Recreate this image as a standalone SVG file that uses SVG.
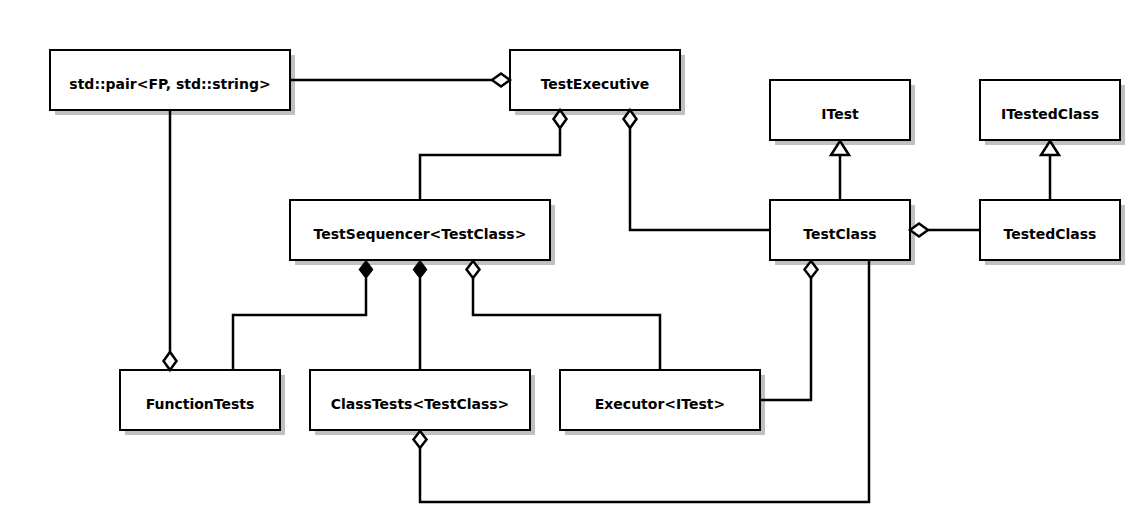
<svg xmlns="http://www.w3.org/2000/svg" width="1140" height="528" viewBox="0 0 1140 528">
<style>
.box{fill:#fff;stroke:#000;stroke-width:2}
.sh{fill:#c0c0c0}
.lbl{font-family:"DejaVu Sans",Verdana,sans-serif;font-weight:bold;font-size:14px;text-anchor:middle;fill:#000}
.ln{fill:none;stroke:#000;stroke-width:2.5}
.hd{fill:#fff;stroke:#000;stroke-width:2.5}
.fd{fill:#000;stroke:#000;stroke-width:1.5}
</style>
<rect width="1140" height="528" fill="#fff"/>
<g id="pair"><rect class="sh" x="55" y="55" width="240" height="60"/><rect class="box" x="50" y="50" width="240" height="60"/><text class="lbl" x="170" y="88.5">std::pair&lt;FP, std::string&gt;</text></g>
<g id="testexecutive"><rect class="sh" x="515" y="55" width="170" height="60"/><rect class="box" x="510" y="50" width="170" height="60"/><text class="lbl" x="595" y="88.5">TestExecutive</text></g>
<g id="itest"><rect class="sh" x="775" y="85" width="140" height="60"/><rect class="box" x="770" y="80" width="140" height="60"/><text class="lbl" x="840" y="118.5">ITest</text></g>
<g id="itestedclass"><rect class="sh" x="985" y="85" width="140" height="60"/><rect class="box" x="980" y="80" width="140" height="60"/><text class="lbl" x="1050" y="118.5">ITestedClass</text></g>
<g id="testsequencer"><rect class="sh" x="295" y="205" width="260" height="60"/><rect class="box" x="290" y="200" width="260" height="60"/><text class="lbl" x="420" y="238.5">TestSequencer&lt;TestClass&gt;</text></g>
<g id="testclass"><rect class="sh" x="775" y="205" width="140" height="60"/><rect class="box" x="770" y="200" width="140" height="60"/><text class="lbl" x="840" y="238.5">TestClass</text></g>
<g id="testedclass"><rect class="sh" x="985" y="205" width="140" height="60"/><rect class="box" x="980" y="200" width="140" height="60"/><text class="lbl" x="1050" y="238.5">TestedClass</text></g>
<g id="functiontests"><rect class="sh" x="125" y="375" width="160" height="60"/><rect class="box" x="120" y="370" width="160" height="60"/><text class="lbl" x="200" y="408.5">FunctionTests</text></g>
<g id="classtests"><rect class="sh" x="315" y="375" width="220" height="60"/><rect class="box" x="310" y="370" width="220" height="60"/><text class="lbl" x="420" y="408.5">ClassTests&lt;TestClass&gt;</text></g>
<g id="executor"><rect class="sh" x="565" y="375" width="200" height="60"/><rect class="box" x="560" y="370" width="200" height="60"/><text class="lbl" x="660" y="408.5">Executor&lt;ITest&gt;</text></g>
<g id="connectors">
<polyline class="ln" points="290,80 492,80"/>
<path class="hd" d="M510,80 L501,73.5 L492,80 L501,86.5 Z"/>
<polyline class="ln" points="560,128 560,155 420,155 420,200"/>
<path class="hd" d="M560,110 L566.5,119 L560,128 L553.5,119 Z"/>
<polyline class="ln" points="630,128 630,230 770,230"/>
<path class="hd" d="M630,110 L636.5,119 L630,128 L623.5,119 Z"/>
<polyline class="ln" points="840,200 840,155"/>
<path class="hd" d="M840,141 L849,155 L831,155 Z"/>
<polyline class="ln" points="1050,200 1050,155"/>
<path class="hd" d="M1050,141 L1059,155 L1041,155 Z"/>
<polyline class="ln" points="980,230 928,230"/>
<path class="hd" d="M910,230 L919,223.5 L928,230 L919,236.5 Z"/>
<polyline class="ln" points="170,110 170,352"/>
<path class="hd" d="M170,370 L176.5,361 L170,352 L163.5,361 Z"/>
<polyline class="ln" points="366,278 366,315 233,315 233,370"/>
<path class="fd" d="M366,261 L372.5,269.5 L366,278 L359.5,269.5 Z"/>
<polyline class="ln" points="420,278 420,370"/>
<path class="fd" d="M420,261 L426.5,269.5 L420,278 L413.5,269.5 Z"/>
<polyline class="ln" points="473,278 473,315 660,315 660,370"/>
<path class="hd" d="M473,261 L479.5,269.5 L473,278 L466.5,269.5 Z"/>
<polyline class="ln" points="811,278 811,400 760,400"/>
<path class="hd" d="M811,261 L817.5,269.5 L811,278 L804.5,269.5 Z"/>
<polyline class="ln" points="869,260 869,502 420,502 420,448"/>
<path class="hd" d="M420,431 L426.5,439.5 L420,448 L413.5,439.5 Z"/>
</g>
</svg>
